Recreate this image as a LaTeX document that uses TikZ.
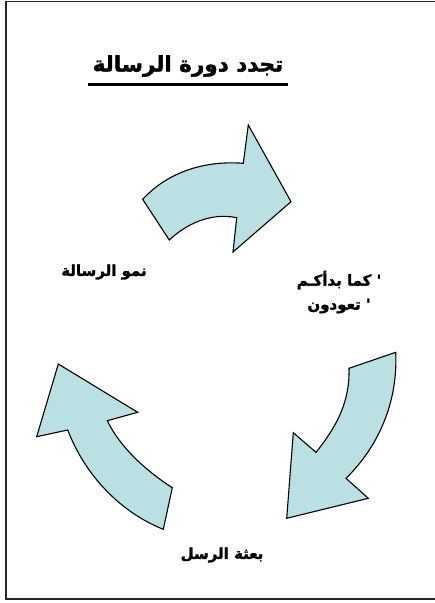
\documentclass[tikz,border=0pt]{standalone}
\usepackage{fontspec}
\newfontfamily\arabicfont[Script=Arabic,BoldFont={DejaVu Sans Bold},BoldFeatures={FakeBold=1.8}]{DejaVu Sans}
\TeXXeTstate=1
\usetikzlibrary{positioning}
\definecolor{cycleFill}{RGB}{186,224,227}
\tikzset{
    every node/.append style={align=center},
    cyclearrow/.style={draw=black,line width=1.1pt,fill=cycleFill,line join=miter},
    stagelbl/.style={font=\arabicfont\bfseries\fontsize{15}{24}\selectfont,inner sep=1pt},
    titlelbl/.style={font=\arabicfont\bfseries\fontsize{21.5}{24}\selectfont,inner xsep=4pt,inner ysep=8pt},
    frameline/.style={line width=1.6pt,draw=black!85},
    uline/.style={line width=3pt}
}
\begin{document}
\begin{tikzpicture}[x=1pt,y=-1pt]
    \useasboundingbox (0,0) rectangle (435,603);
    % page frame (open on the right)
    \draw[frameline] (435,1.5) -- (6,1.5) -- (6,599) -- (435,599);

    % title
    \node[titlelbl] (title) at (188,66) {\beginR تجدد دورة الرسالة\endR};
    \draw[uline] (title.south west) -- (title.south east);

    % top arrow: growth -> return
    \draw[cyclearrow] (142.7,199.3) .. controls (165,175) and (200,160) .. (243.3,163.3)
        -- (248.3,125) -- (291,201.7) -- (233,252) -- (236.7,217.7)
        .. controls (210,212) and (185,225) .. (169.3,240) -- cycle;
    % right arrow: return -> sending
    \draw[cyclearrow] (395.7,352.3) .. controls (398,400) and (380,445) .. (346,478.3)
        -- (368.3,498.3) -- (286.7,518.3) -- (293.3,432.7) -- (316,452.3)
        .. controls (338,425) and (350,400) .. (349,368.3) -- cycle;
    % left arrow: sending -> growth
    \draw[cyclearrow] (163.3,529.3) .. controls (120,512) and (85,475) .. (67.7,430)
        -- (36.7,436.7) -- (58.3,364) -- (137.7,412.3) -- (107.3,420.7)
        .. controls (120,447) and (145,470) .. (172.3,487.7) -- cycle;

    % stages
    \node[stagelbl] (growth) at (104,272) {\beginR نمو الرسالة\endR};
    \node[stagelbl] (return) at (339,292) {\beginR '  كما بدأكـم\endR\\\beginR ' تعودون\endR};
    \node[stagelbl] (sending) at (222,555) {\beginR بعثة الرسل\endR};
\end{tikzpicture}
\end{document}
